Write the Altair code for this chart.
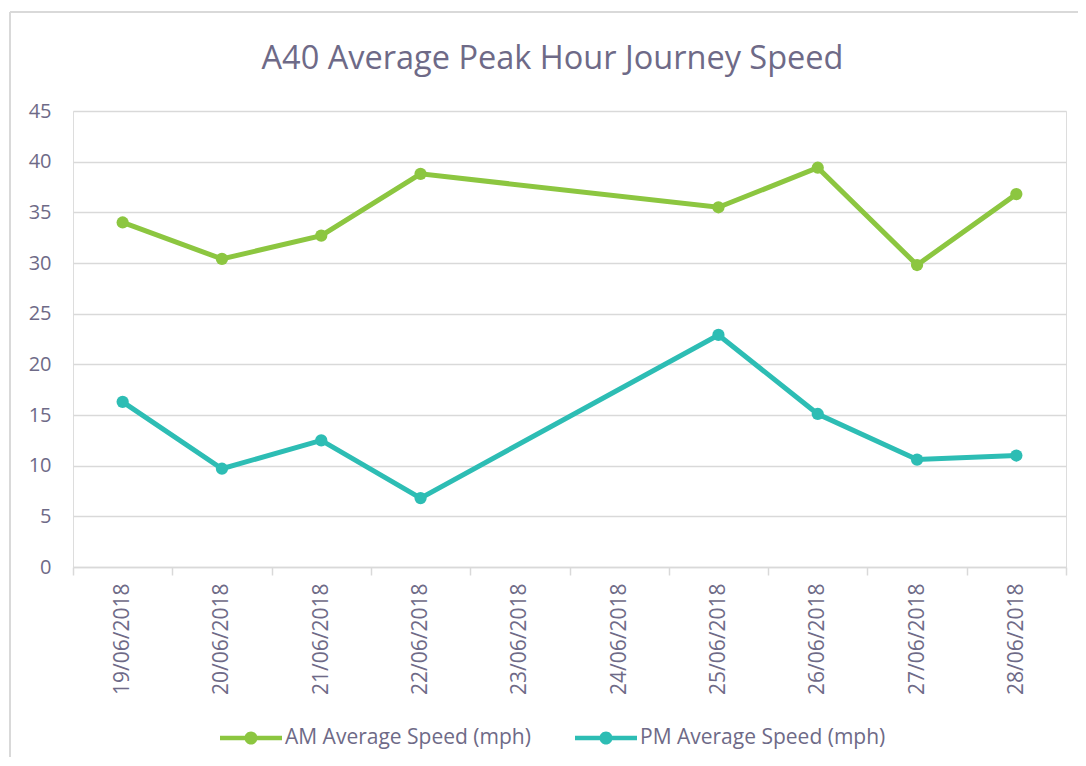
import altair as alt
import pandas as pd

dates = ["19/06/2018", "20/06/2018", "21/06/2018", "22/06/2018", "23/06/2018",
         "24/06/2018", "25/06/2018", "26/06/2018", "27/06/2018", "28/06/2018"]
data_dates = ["19/06/2018", "20/06/2018", "21/06/2018", "22/06/2018",
              "25/06/2018", "26/06/2018", "27/06/2018", "28/06/2018"]
am_speed = [34.0, 30.4, 32.7, 38.8, 35.5, 39.4, 29.8, 36.8]
pm_speed = [16.3, 9.7, 12.5, 6.8, 22.9, 15.1, 10.6, 11.0]
series_names = ["AM Average Speed (mph)", "PM Average Speed (mph)"]
series_colors = ["#8CC640", "#2DBDB4"]
y_ticks = [0, 5, 10, 15, 20, 25, 30, 35, 40, 45]

rows = []
for d, v in zip(data_dates, am_speed):
    rows.append({"date": d, "speed": v, "series": series_names[0]})
for d, v in zip(data_dates, pm_speed):
    rows.append({"date": d, "speed": v, "series": series_names[1]})
df = pd.DataFrame(rows)

TEXT = "#6E6A87"
GRID = "#D9D9D9"
FONT = "Open Sans"

legend_symbol = ("M-1,-0.075 L1,-0.075 L1,0.075 L-1,0.075 Z "
                 "M0.21,0 A0.21,0.21 0 1,1 -0.21,0 A0.21,0.21 0 1,1 0.21,0 Z")

x_scale = alt.Scale(domain=dates, type="band", paddingInner=0, paddingOuter=0)

x_enc = alt.X("date:N", scale=x_scale, bandPosition=0.5,
              axis=alt.Axis(title=None, labelAngle=270, labelAlign="right", labelBaseline="middle",
                            labelFontSize=21, labelColor=TEXT, labelFont=FONT, labelPadding=8,
                            tickBand="extent", tickSize=8, tickColor=GRID, tickWidth=1.5,
                            domainColor=GRID, domainWidth=1.5, grid=False))
y_enc = alt.Y("speed:Q", scale=alt.Scale(domain=[0, 45], nice=False),
              axis=alt.Axis(title=None, values=y_ticks, labelFontSize=20, labelColor=TEXT,
                            labelFont=FONT, labelPadding=22, ticks=False, domain=False,
                            grid=True, gridColor=GRID, gridWidth=1.5))
color_enc = alt.Color("series:N", scale=alt.Scale(domain=series_names, range=series_colors),
                      legend=alt.Legend(title=None, orient="none", direction="horizontal",
                                        legendX=147, legendY=596, symbolType=legend_symbol,
                                        symbolSize=3844, symbolStrokeWidth=0, labelFontSize=21,
                                        labelColor=TEXT, labelFont=FONT, labelOffset=3,
                                        labelLimit=400, columnPadding=44, padding=0,
                                        symbolOpacity=1))

base = alt.Chart(df)
lines = base.mark_line(strokeWidth=5).encode(x=x_enc, y=y_enc, color=color_enc)
points = base.mark_point(filled=True, size=150, opacity=1).encode(
    x=alt.X("date:N", scale=x_scale, bandPosition=0.5),
    y="speed:Q",
    color=alt.Color("series:N", legend=None))

border_df = pd.DataFrame({"k": [0]})
border_v = alt.Chart(border_df).mark_rule(color=GRID, strokeWidth=2).encode(
    x=alt.value(-63), y=alt.value(-99), y2=alt.value(660))
border_h = alt.Chart(border_df).mark_rule(color=GRID, strokeWidth=2).encode(
    x=alt.value(-63), x2=alt.value(1010), y=alt.value(-99))

chart = alt.layer(border_v, border_h, lines, points).properties(
    width=993, height=456,
    title=alt.Title("A40 Average Peak Hour Journey Speed", fontSize=32.5, font=FONT,
                    fontWeight="normal", color=TEXT, anchor="middle", frame="group",
                    offset=36, dy=100, dx=-17),
    autosize=alt.AutoSizeParams(type="none"),
    padding={"left": 65, "top": 103, "right": 12, "bottom": 190},
).configure_view(stroke=None).configure(background="white")

chart.save("out.html", embed_options={"renderer": "svg", "actions": False})
